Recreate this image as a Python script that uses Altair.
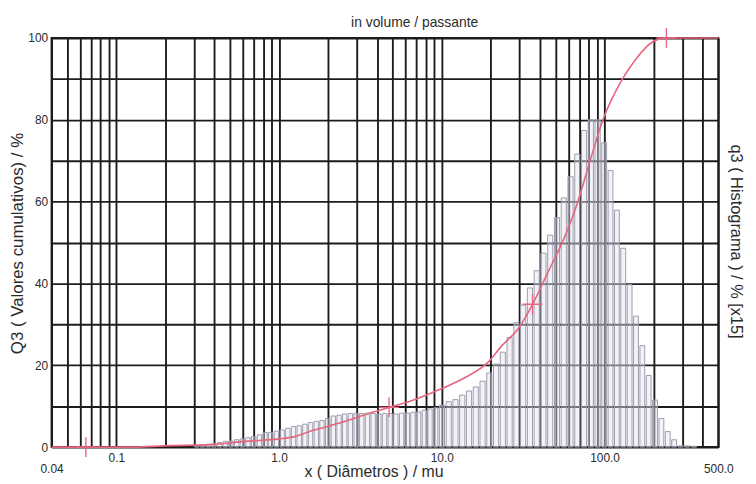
import altair as alt
import numpy as np
import pandas as pd

FONT = "Liberation Sans"
TXT = "#2b2b2b"

# ---- cumulative curve Q3 (diameter in mu, cumulative %)
curve_d = [0.04, 0.131, 0.197, 0.38, 0.612, 1.0, 1.23, 1.54, 1.96, 2.49, 3.29, 4.74,
           6.27, 10.0, 13.9, 19.2, 23.4, 29.3, 36.1, 44.6, 55.8, 67.9, 81.5, 97.8,
           129.0, 157.0, 197.0, 240.0, 500.0]
curve_q3 = [0.0, 0.0, 0.3, 0.6, 1.4, 2.0, 2.5, 3.8, 5.0, 6.2, 7.8, 9.7,
            11.1, 14.3, 17.0, 20.7, 24.8, 28.8, 34.9, 42.5, 50.6, 59.5, 70.0, 80.0,
            90.0, 95.0, 99.0, 100.0, 100.0]

# ---- cross markers on the curve
mark_d = [0.065, 4.74, 36.1, 240.0]
mark_q3 = [0.0, 9.7, 34.9, 100.0]

# ---- histogram q3 classes: segment limits (mu) and number of classes in each segment
class_bounds = [0.30, 9.55, 95.1, 280.0, 371.0]
class_counts = [43, 24, 12, 3]
hist_q3 = [
    0.5, 0.6, 0.7, 0.8, 1.1, 1.4, 1.5, 1.8, 2.0, 2.3, 2.6, 3.0, 3.6, 3.6, 3.9, 4.2,
    4.6, 5.0, 5.2, 5.6, 6.0, 6.3, 6.5, 7.0, 7.6, 7.8, 8.1, 8.2, 8.2, 8.2, 8.3, 8.2,
    8.1, 8.2, 8.2, 8.1, 8.3, 8.3, 8.5, 8.6, 9.0, 9.3, 9.6,
    10.2, 11.1, 11.6, 12.7, 13.7, 14.7, 16.1, 18.1, 20.3, 23.2, 26.8, 30.4, 34.7,
    38.9, 43.1, 47.4, 51.8, 56.1, 60.9, 66.1, 71.6, 77.4, 80.0, 80.0,
    74.4, 67.6, 57.9, 48.6, 39.7, 32.0, 24.8, 17.5, 11.5, 7.0, 3.8, 1.8,
    0.3, 0.3, 0.2,
]

# ---- axes
y_grid = list(range(0, 101, 10))
x_grid = [round(k * 10.0 ** e, 6) for e in range(-2, 3) for k in range(1, 10)]
x_grid = [v for v in x_grid if 0.04 <= v <= 500]
x_label_vals = [0.04, 0.1, 1.0, 10.0, 100.0, 500.0]
x_label_txt = ["0.04", "0.1", "1.0", "10.0", "100.0", "500.0"]

lo, hi = [], []
for a, b, n in zip(class_bounds[:-1], class_bounds[1:], class_counts):
    e = np.geomspace(a, b, n + 1)
    lo += list(e[:-1])
    hi += list(e[1:])
hist_df = pd.DataFrame({"lo": lo, "hi": hi, "q": hist_q3})
curve_df = pd.DataFrame({"d": curve_d, "Q": curve_q3})
mark_df = pd.DataFrame({"d": mark_d, "Q": mark_q3})

label_expr = " : ".join(f"datum.value == {v} ? '{t}'" for v, t in zip(x_label_vals, x_label_txt)) + " : ''"

xscale = alt.Scale(type="log", domain=[0.04, 500], nice=False)
xaxis = alt.Axis(
    values=x_grid, labelExpr=label_expr, labelOverlap=False, labelFlush=False,
    grid=True, gridColor="#1c1c1c", gridWidth=1.9, gridOpacity=1,
    domain=False, ticks=False,
    labelPadding={"condition": {"test": "datum.value < 0.05 || datum.value > 400", "value": 17}, "value": 6},
    labelFont=FONT, labelFontSize=12, labelColor=TXT,
    title="x ( Diâmetros ) / mu", titleX=325, titleY=25, titleBaseline="middle",
    titleFont=FONT, titleFontSize=16, titleFontWeight="normal", titleColor=TXT,
)
yscale = alt.Scale(domain=[0, 100], nice=False, zero=True)

bars = alt.Chart(hist_df).transform_calculate(
    x1="exp(log(datum.lo) + 0.12 * (log(datum.hi) - log(datum.lo)))",
    x2="exp(log(datum.lo) + 0.88 * (log(datum.hi) - log(datum.lo)))",
).mark_rect(fill="#e2e2f0", fillOpacity=0.45, stroke="#9c9cac", strokeWidth=1).encode(
    x=alt.X("x1:Q", scale=xscale, axis=xaxis),
    x2="x2:Q",
    y=alt.Y("q:Q", scale=yscale, axis=alt.Axis(
        orient="right", labels=False, ticks=False, domain=False, grid=False,
        title="q3 ( Histograma ) / % [x15]", titleAngle=90, titleX=17, titleY=205,
        titleBaseline="middle", titleAlign="center",
        titleFont=FONT, titleFontSize=16.5, titleFontWeight="normal", titleColor=TXT)),
    y2=alt.datum(0),
)

line = alt.Chart(curve_df).mark_line(color="#e8657f", strokeWidth=1.6, interpolate="monotone").encode(
    x=alt.X("d:Q", scale=xscale, axis=xaxis),
    y=alt.Y("Q:Q", scale=yscale, axis=alt.Axis(
        orient="left", values=y_grid, labelExpr="datum.value % 20 == 0 ? datum.label : ''",
        grid=True, gridColor="#1c1c1c", gridWidth=1.9, gridOpacity=1,
        domain=False, ticks=False, labelPadding=4,
        labelFont=FONT, labelFontSize=12, labelColor=TXT,
        title="Q3 ( Valores cumulativos) / %", titleAngle=270, titleX=-34, titleY=207,
        titleBaseline="middle", titleAlign="center",
        titleFont=FONT, titleFontSize=17, titleFontWeight="normal", titleColor=TXT)),
)

crosses = alt.Chart(mark_df).mark_point(
    shape="M-1,0L1,0M0,-1L0,1", size=400, filled=False, stroke="#e8657f", strokeWidth=1.4, opacity=1
).encode(
    x=alt.X("d:Q", scale=xscale, axis=xaxis),
    y=alt.Y("Q:Q", scale=yscale, axis=None),
)

chart = alt.layer(bars, line, crosses).resolve_scale(y="independent").properties(
    width=673, height=413,
    title=alt.TitleParams("in volume / passante", font=FONT, fontSize=14, fontWeight="normal",
                          color=TXT, dx=30, dy=12, offset=7),
    autosize=alt.AutoSizeParams(type="none"),
    padding={"left": 44, "top": 28, "right": 30, "bottom": 34},
).configure_view(stroke="#1c1c1c", strokeWidth=2)

chart.save("out.html", embed_options={"renderer": "svg", "actions": False})
